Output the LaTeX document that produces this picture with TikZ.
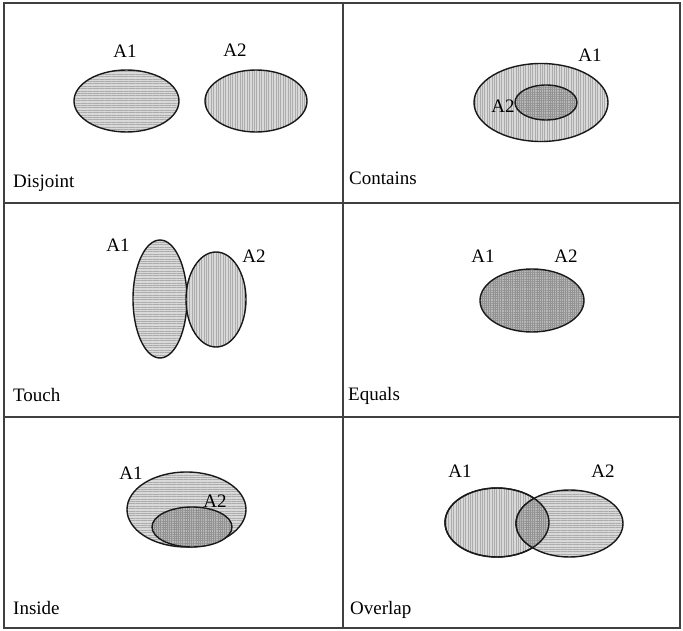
\documentclass[tikz,border=0pt]{standalone}
\usepackage{fontspec}
\setmainfont{Liberation Serif}
\usepackage{tikz}
\usetikzlibrary{patterns.meta}
\tikzset{
    grid line/.style={draw=black!75, line width=1.1pt}, % frame of the six boxes
    region/.style={draw=black!90, line width=1.4pt},     % outline of each set
    hlines/.style={region, preaction={fill=gray!30},
        pattern={Lines[angle=0,distance=2.4pt,line width=0.8pt]}, pattern color=gray!65},
    vlines/.style={region, preaction={fill=gray!30},
        pattern={Lines[angle=90,distance=2.4pt,line width=0.8pt]}, pattern color=gray!65},
    xhatch/.style={region, preaction={fill=gray!55},
        pattern={Hatch[angle=0,distance=2.2pt,line width=0.6pt]}, pattern color=gray!85},
    setname/.style={anchor=base, font=\fontsize{19}{22}\selectfont},
    boxname/.style={anchor=base west, inner sep=0pt, font=\fontsize{19}{22}\selectfont}
}

\begin{document}
\begin{tikzpicture}[x=1pt,y=-1pt]
\useasboundingbox (0,0) rectangle (683,631);
% frame
\draw[grid line] (4,3) rectangle (680,628);
\draw[grid line] (343,3) -- (343,628);
\draw[grid line] (4,203) -- (680,203);
\draw[grid line] (4,417) -- (680,417);

% Disjoint
\draw[hlines] (126.5,101) ellipse [x radius=52.5, y radius=31];
\draw[vlines] (256,101) ellipse [x radius=51, y radius=31];
\node[setname] (d1) at (125,58) {A1};
\node[setname] (d2) at (235,57) {A2};
\node[boxname] (disjoint) at (13,188) {Disjoint};

% Contains
\draw[vlines] (541,102.5) ellipse [x radius=67, y radius=39];
\draw[xhatch] (546,102.5) ellipse [x radius=31, y radius=17.5];
\node[setname] (c1) at (590,62) {A1};
\node[setname] (c2) at (503,113) {A2};
\node[boxname] (contains) at (349,185) {Contains};

% Touch
\draw[hlines] (160,299) ellipse [x radius=27, y radius=59];
\draw[vlines] (216,299.5) ellipse [x radius=30, y radius=47.5];
\node[setname] (t1) at (118,252) {A1};
\node[setname] (t2) at (254,262) {A2};
\node[boxname] (touch) at (13,401) {Touch};

% Equals
\draw[xhatch] (532,300.5) ellipse [x radius=52, y radius=31.5];
\node[setname] (e1) at (483,263) {A1};
\node[setname] (e2) at (566,263) {A2};
\node[boxname] (equals) at (348,400) {Equals};

% Inside
\draw[hlines] (186.5,509.5) ellipse [x radius=59.5, y radius=37.5];
\draw[xhatch] (192,527) ellipse [x radius=40, y radius=20];
\node[setname] (i1) at (131,479) {A1};
\node[setname] (i2) at (215,507) {A2};
\node[boxname] (inside) at (13,614) {Inside};

% Overlap
\draw[vlines] (497,522.5) ellipse [x radius=52, y radius=34.5];
\draw[hlines] (569.5,523.5) ellipse [x radius=53.5, y radius=33.5];
\begin{scope}
    \clip (497,522.5) ellipse [x radius=52, y radius=34.5];
    \draw[xhatch] (569.5,523.5) ellipse [x radius=53.5, y radius=33.5];
\end{scope}
\draw[region] (497,522.5) ellipse [x radius=52, y radius=34.5];
\node[setname] (o1) at (460,477) {A1};
\node[setname] (o2) at (603,477) {A2};
\node[boxname] (overlap) at (350,614) {Overlap};
\end{tikzpicture}
\end{document}
